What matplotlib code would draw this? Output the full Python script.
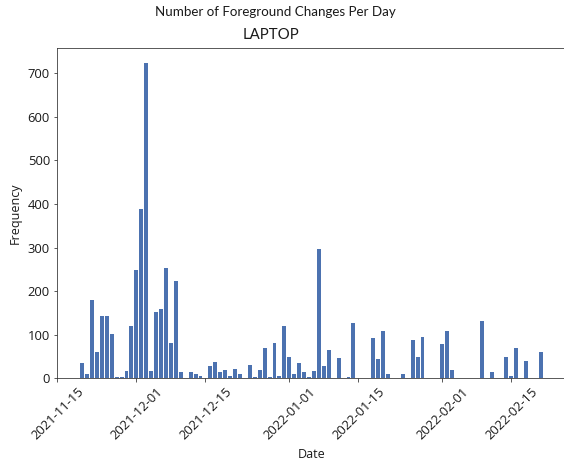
import matplotlib
matplotlib.use("Agg")
import matplotlib.pyplot as plt
import matplotlib.dates as mdates
import pandas as pd

dates = [
    "2021-11-20", "2021-11-21", "2021-11-22", "2021-11-23", "2021-11-24", "2021-11-25",
    "2021-11-26", "2021-11-27", "2021-11-28", "2021-11-29", "2021-11-30", "2021-12-01",
    "2021-12-02", "2021-12-03", "2021-12-04", "2021-12-05", "2021-12-06", "2021-12-07",
    "2021-12-08", "2021-12-09", "2021-12-10", "2021-12-12", "2021-12-13", "2021-12-14",
    "2021-12-16", "2021-12-17", "2021-12-18", "2021-12-19", "2021-12-20", "2021-12-21",
    "2021-12-22", "2021-12-24", "2021-12-25", "2021-12-26", "2021-12-27", "2021-12-28",
    "2021-12-29", "2021-12-30", "2021-12-31", "2022-01-01", "2022-01-02", "2022-01-03",
    "2022-01-04", "2022-01-05", "2022-01-06", "2022-01-07", "2022-01-08", "2022-01-09",
    "2022-01-11", "2022-01-13", "2022-01-14", "2022-01-18", "2022-01-19", "2022-01-20",
    "2022-01-21", "2022-01-24", "2022-01-26", "2022-01-27", "2022-01-28", "2022-02-01",
    "2022-02-02", "2022-02-03", "2022-02-09", "2022-02-11", "2022-02-14", "2022-02-15",
    "2022-02-16", "2022-02-18", "2022-02-21",
]
counts = [
    34, 11, 180, 61, 142, 142,
    101, 3, 3, 17, 119, 249,
    388, 723, 17, 153, 160, 252,
    82, 224, 14, 14, 11, 5,
    28, 37, 15, 18, 5, 21,
    9, 31, 3, 18, 70, 3,
    82, 5, 121, 50, 11, 34,
    15, 4, 17, 296, 28, 64,
    47, 3, 128, 92, 44, 109,
    9, 9, 87, 50, 95, 79,
    109, 18, 131, 15, 50, 5,
    70, 40, 60,
]

suptitle = "Number of Foreground Changes Per Day"
title = "LAPTOP"
xlabel = "Date"
ylabel = "Frequency"

plt.rcParams["font.family"] = ["Open Sans", "DejaVu Sans"]

W, H = 564, 465
fig = plt.figure(figsize=(W / 72, H / 72), dpi=72)
ax = fig.add_axes([57 / W, (H - 378.3) / H, (566 - 57) / W, (378.3 - 47.5) / H])

x = pd.to_datetime(dates)
ax.bar(x, counts, width=0.8, color="#4c72b0")

ax.xaxis.set_major_locator(mdates.AutoDateLocator())
ax.xaxis.set_major_formatter(mdates.DateFormatter("%Y-%m-%d"))
ax.set_yticks([0, 100, 200, 300, 400, 500, 600, 700])
ax.tick_params(labelsize=13, colors="#333333", labelcolor="#1a1a1a")
plt.setp(ax.get_xticklabels(), rotation=45, ha="center")
for s in ax.spines.values():
    s.set_color("#333333")

ax.set_xlabel(xlabel, fontsize=12.5, color="#1a1a1a", labelpad=6)
ax.set_ylabel(ylabel, fontsize=12.5, color="#1a1a1a", labelpad=6)

fig.text(275 / W, 1 - 12 / H, suptitle, ha="center", va="center", fontsize=13.4,
         family="Lato", color="#1a1a1a")
fig.text(271 / W, 1 - 35 / H, title, ha="center", va="center", fontsize=15,
         family="Lato", color="#1a1a1a")

fig.savefig("out.png", dpi=72)
